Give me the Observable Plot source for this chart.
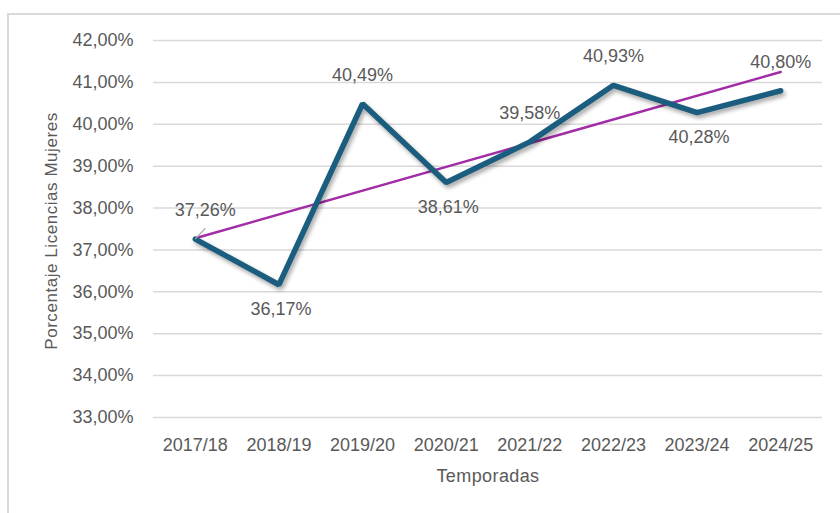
<!DOCTYPE html>
<html>
<head>
<meta charset="utf-8">
<script src="https://cdn.jsdelivr.net/npm/d3@7"></script>
<script src="https://cdn.jsdelivr.net/npm/@observablehq/plot@0.6"></script>
<style>
  html, body { margin: 0; padding: 0; background: #ffffff; }
  #wrap { position: relative; width: 840px; height: 513px; overflow: hidden; }
  #border { position: absolute; left: 7px; top: 13px; width: 850px; height: 520px;
            border: 2px solid #d9d9d9; box-sizing: border-box; }
  #chart { position: absolute; left: 0; top: 0; }
</style>
</head>
<body>
<div id="wrap"><div id="border"></div><div id="chart"></div></div>
<script>
const seasons = ["2017/18", "2018/19", "2019/20", "2020/21", "2021/22", "2022/23", "2023/24", "2024/25"];
const pct = [37.26, 36.17, 40.49, 38.61, 39.58, 40.93, 40.28, 40.80];
const yTicks = [33, 34, 35, 36, 37, 38, 39, 40, 41, 42];
const labelSide = ["above", "below", "above", "below", "above", "above", "below", "above"];

const data = seasons.map((s, i) => ({ i, season: s, v: pct[i], side: labelSide[i] }));
const fmt = v => v.toFixed(2).replace(".", ",") + "%";
const textColor = "#595959";
const font = "'Liberation Sans', Arial, sans-serif";

const chart = Plot.plot({
  width: 840,
  height: 513,
  marginLeft: 153,
  marginRight: 18,
  marginTop: 40,
  marginBottom: 96,
  x: { domain: [-0.5, 7.5] },
  y: { domain: [33, 42] },
  style: { fontFamily: font, fontSize: "18px", color: textColor, background: "transparent", overflow: "visible" },
  marks: [
    Plot.gridY(yTicks, { stroke: "#d9d9d9", strokeOpacity: 1, strokeWidth: 1.5 }),
    Plot.axisY(yTicks, { tickSize: 0, tickPadding: 20, tickFormat: fmt, fill: textColor, fontSize: 18, label: null }),
    Plot.axisX(d3.range(seasons.length), { tickSize: 0, tickPadding: 21, tickFormat: i => seasons[i], fill: textColor, fontSize: 18, label: null }),
    Plot.linearRegressionY(data, { x: "i", y: "v", stroke: "#A22CA6", strokeWidth: 2.5, ci: 0 }),
    Plot.line(data, { x: "i", y: "v", stroke: "#1A5D7E", strokeWidth: 5.5, strokeLinejoin: "miter", strokeLinecap: "round" }),
    // leader line for first label
    Plot.link(data.filter(d => d.i === 0), { x1: "i", y1: "v", x2: d => d.i + 0.12, y2: d => d.v + 0.26, stroke: "#a6a6a6", strokeWidth: 1.2 }),
    Plot.text(data.filter(d => d.i === 0), { x: "i", y: "v", text: d => fmt(d.v), dy: -29, dx: 10, fill: textColor, fontSize: 18 }),
    Plot.text(data.filter(d => d.side === "above" && d.i !== 0), { x: "i", y: "v", text: d => fmt(d.v), dy: -29, fill: textColor, fontSize: 18 }),
    Plot.text(data.filter(d => d.side === "below"), { x: "i", y: "v", text: d => fmt(d.v), dy: 25, dx: 2, fill: textColor, fontSize: 18 }),
    Plot.text(["Temporadas"], { frameAnchor: "bottom", dy: 64, fill: textColor, fontSize: 18 }),
    Plot.text(["Porcentaje Licencias Mujeres"], { frameAnchor: "left", textAnchor: "middle", dx: -102, dy: 2, rotate: -90, fill: textColor, fontSize: 17 })
  ]
});

document.getElementById("chart").appendChild(chart);
// soft shadow under the main series line
d3.select(chart).selectAll('g[aria-label="line"]').style("filter", "drop-shadow(2px 3px 2px rgba(0,0,0,0.35))");
// slightly wider tracking for the axis titles
d3.select(chart).selectAll("text")
  .filter(function () { return this.textContent === "Porcentaje Licencias Mujeres"; })
  .style("letter-spacing", "0.55px");
d3.select(chart).selectAll("text")
  .filter(function () { return this.textContent === "Temporadas"; })
  .style("letter-spacing", "0.4px");
</script>
</body>
</html>
